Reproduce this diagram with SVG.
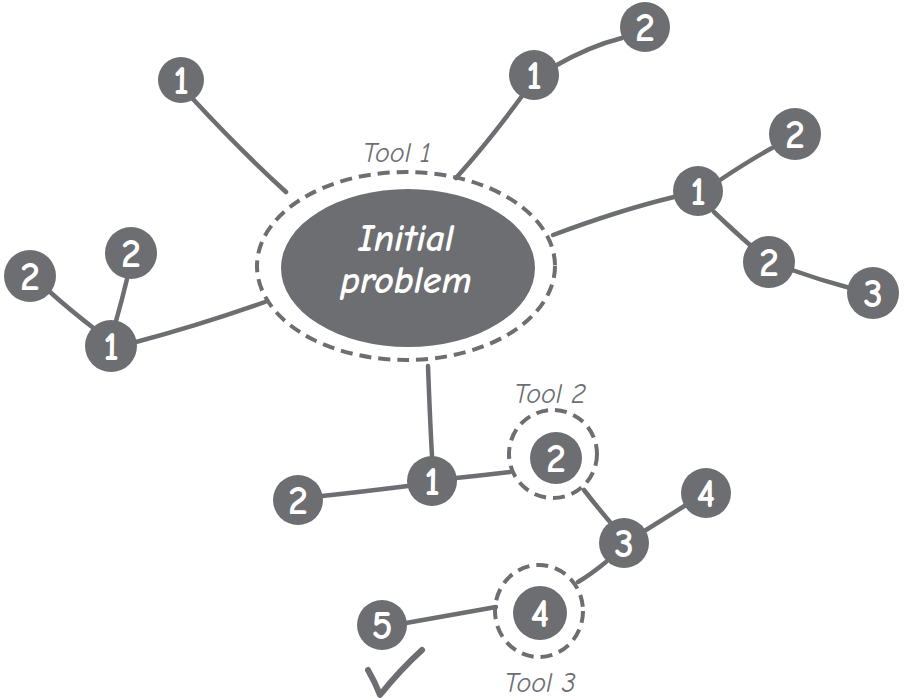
<svg xmlns="http://www.w3.org/2000/svg" width="906" height="700" viewBox="0 0 906 700">
<style>
.n{fill:#6d6e71}
.t{fill:#fff;font-family:"Comic Sans MS","Comic Neue","DejaVu Sans",sans-serif;font-size:40px;font-weight:bold;text-anchor:middle}
.p{fill:#fff;font-family:"Comic Sans MS","Comic Neue","DejaVu Sans",sans-serif;font-size:38px;font-style:italic;font-weight:bold;text-anchor:middle}
.c{stroke:#6d6e71;stroke-width:4.5;fill:none;stroke-linecap:round}
.d{stroke:#6d6e71;stroke-width:4;fill:none;stroke-dasharray:12 7}
.l{fill:#6d6e71;font-family:"Comic Sans MS","Comic Neue","DejaVu Sans",sans-serif;font-style:italic;font-size:28px;text-anchor:middle}
</style>
<rect width="906" height="700" fill="#fff"/>
<g id="connectors">
<path class="c" d="M192,98 Q240,150 286,192"/>
<path class="c" d="M522,96 Q490,140 456,178"/>
<path class="c" d="M555,66 Q590,46 622,38"/>
<path class="c" d="M553,235 Q620,210 674,197"/>
<path class="c" d="M720,180 Q750,160 772,148"/>
<path class="c" d="M714,212 Q735,232 750,245"/>
<path class="c" d="M792,270 Q820,280 850,288"/>
<path class="c" d="M265,302 Q200,325 136,342"/>
<path class="c" d="M96,330 Q70,310 50,292"/>
<path class="c" d="M116,321 Q122,300 127,279"/>
<path class="c" d="M428,366 Q430,420 432,456"/>
<path class="c" d="M408,486 Q360,492 322,496"/>
<path class="c" d="M456,478 Q485,475 510,472"/>
<path class="c" d="M584,490 Q598,508 610,522"/>
<path class="c" d="M646,530 Q670,515 686,505"/>
<path class="c" d="M606,562 Q590,575 578,582"/>
<path class="c" d="M496,607 Q450,615 406,623"/>
<path d="M368,670 Q375,682 380,695 Q400,670 422,650" stroke="#6d6e71" stroke-width="6" fill="none" stroke-linecap="round" stroke-linejoin="round"/>
</g>
<g id="problem">
<ellipse cx="406" cy="266" rx="149" ry="94" class="d"/>
<ellipse cx="408" cy="268" rx="127" ry="79" class="n"/>
<text x="406" y="251" class="p">Initial</text>
<text x="406" y="293" class="p">problem</text>
<text x="397" y="162" class="l">Tool 1</text>
</g>
<g id="nA"><circle cx="181" cy="80" r="23" class="n"/><text x="181" y="94" class="t">1</text></g>
<g id="nB"><circle cx="534" cy="75" r="25" class="n"/><text x="534" y="89" class="t">1</text></g>
<g id="nC"><circle cx="645" cy="27" r="25" class="n"/><text x="645" y="41" class="t">2</text></g>
<g id="nD"><circle cx="795" cy="134" r="26" class="n"/><text x="795" y="148" class="t">2</text></g>
<g id="nE"><circle cx="698" cy="191" r="25" class="n"/><text x="698" y="205" class="t">1</text></g>
<g id="nF"><circle cx="769" cy="262" r="26" class="n"/><text x="769" y="276" class="t">2</text></g>
<g id="nG"><circle cx="873" cy="293" r="26" class="n"/><text x="873" y="307" class="t">3</text></g>
<g id="nH"><circle cx="131" cy="253" r="26" class="n"/><text x="131" y="267" class="t">2</text></g>
<g id="nI"><circle cx="30" cy="276" r="26" class="n"/><text x="30" y="290" class="t">2</text></g>
<g id="nJ"><circle cx="111" cy="346" r="26" class="n"/><text x="111" y="360" class="t">1</text></g>
<g id="nK"><circle cx="432" cy="481" r="25" class="n"/><text x="432" y="495" class="t">1</text></g>
<g id="nL"><circle cx="298" cy="500" r="25" class="n"/><text x="298" y="514" class="t">2</text></g>
<g id="nM">
<circle cx="553" cy="454" r="44" class="d"/>
<circle cx="556" cy="458" r="26" class="n"/><text x="556" y="472" class="t">2</text>
<text x="550" y="403" class="l">Tool 2</text>
</g>
<g id="nN"><circle cx="624" cy="543" r="25" class="n"/><text x="624" y="557" class="t">3</text></g>
<g id="nO"><circle cx="706" cy="493" r="25" class="n"/><text x="706" y="507" class="t">4</text></g>
<g id="nP">
<ellipse cx="539" cy="611" rx="44" ry="46" class="d"/>
<circle cx="540" cy="613" r="27" class="n"/><text x="540" y="627" class="t">4</text>
<text x="540" y="692" class="l">Tool 3</text>
</g>
<g id="nQ"><circle cx="382" cy="625" r="25" class="n"/><text x="382" y="639" class="t">5</text></g>
</svg>
